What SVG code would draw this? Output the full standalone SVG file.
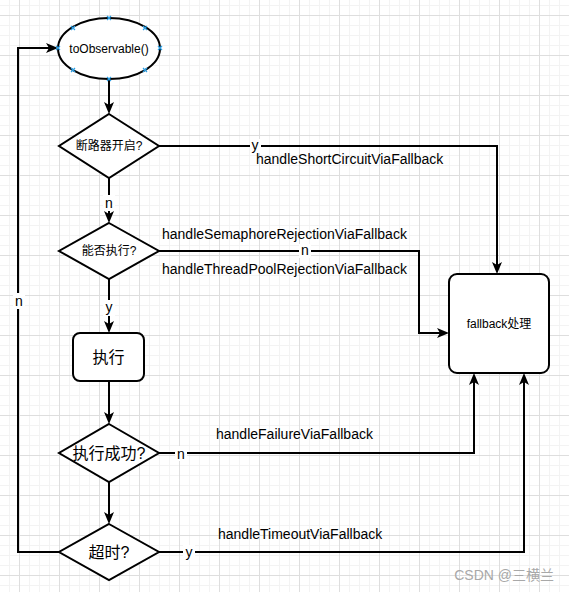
<svg xmlns="http://www.w3.org/2000/svg" width="569" height="592" viewBox="0 0 569 592">
<defs>
<pattern id="grid" patternUnits="userSpaceOnUse" x="19" y="15" width="40" height="40">
<rect x="0" y="0" width="40" height="40" fill="#ffffff"/>
<rect x="10" y="0" width="1" height="40" fill="#f3f3f3"/>
<rect x="20" y="0" width="1" height="40" fill="#f3f3f3"/>
<rect x="30" y="0" width="1" height="40" fill="#f3f3f3"/>
<rect x="0" y="10" width="40" height="1" fill="#f3f3f3"/>
<rect x="0" y="20" width="40" height="1" fill="#f3f3f3"/>
<rect x="0" y="30" width="40" height="1" fill="#f3f3f3"/>
<rect x="0" y="0" width="1" height="40" fill="#dedede"/>
<rect x="0" y="0" width="40" height="1" fill="#dedede"/>
</pattern>
<marker id="arr" viewBox="0 0 12 10" refX="8" refY="5" markerWidth="12" markerHeight="10" markerUnits="userSpaceOnUse" orient="auto">
<path d="M0,0 L12,5 L0,10 L3,5 Z" fill="#000"/>
</marker>
</defs>
<style>
.shape{fill:#fff;stroke:#000;stroke-width:2}
.edge{fill:none;stroke:#000;stroke-width:2}
.t{font-family:"Liberation Sans","Noto Sans CJK SC",sans-serif;fill:#000}
.lbl{font-family:"Liberation Sans","Noto Sans CJK SC",sans-serif;font-size:14px;fill:#000}
.bg{fill:#fff}
.pt{stroke:#2aa0e8;stroke-width:1.2}
</style>
<rect x="0" y="0" width="569" height="592" fill="url(#grid)"/>

<g id="connectors">
<path class="edge" d="M109,79 L109,110" marker-end="url(#arr)"/>
<path class="edge" d="M109,178 L109,219" marker-end="url(#arr)"/>
<path class="edge" d="M109,279 L109,329" marker-end="url(#arr)"/>
<path class="edge" d="M109,381 L109,420" marker-end="url(#arr)"/>
<path class="edge" d="M109,482 L109,520" marker-end="url(#arr)"/>
<path class="edge" d="M59,552 L18,552 L18,48 L54,48" marker-end="url(#arr)"/>
<path class="edge" d="M159,146 L497,146 L497,270" marker-end="url(#arr)"/>
<path class="edge" d="M159,251 L419,251 L419,333 L445,333" marker-end="url(#arr)"/>
<path class="edge" d="M159,453 L474,453 L474,377" marker-end="url(#arr)"/>
<path class="edge" d="M159,552 L524,552 L524,377" marker-end="url(#arr)"/>
<rect class="bg" x="103" y="195" width="12" height="16"/>
<text class="lbl" x="109" y="208" text-anchor="middle">n</text>
<rect class="bg" x="103" y="300" width="12" height="16"/>
<text class="lbl" x="109" y="312" text-anchor="middle">y</text>
<rect class="bg" x="13" y="293" width="12" height="16"/>
<text class="lbl" x="19" y="306" text-anchor="middle">n</text>
<rect class="bg" x="250" y="139" width="11" height="14"/>
<text class="lbl" x="255" y="150" text-anchor="middle">y</text>
<text class="lbl" x="256" y="164">handleShortCircuitViaFallback</text>
<rect class="bg" x="299" y="244" width="12" height="14"/>
<text class="lbl" x="305" y="255" text-anchor="middle">n</text>
<text class="lbl" x="162" y="239">handleSemaphoreRejectionViaFallback</text>
<text class="lbl" x="162" y="274">handleThreadPoolRejectionViaFallback</text>
<rect class="bg" x="175" y="446" width="12" height="15"/>
<text class="lbl" x="181" y="459" text-anchor="middle">n</text>
<text class="lbl" x="216" y="439">handleFailureViaFallback</text>
<rect class="bg" x="183" y="545" width="12" height="15"/>
<text class="lbl" x="189" y="557" text-anchor="middle">y</text>
<text class="lbl" x="218" y="539">handleTimeoutViaFallback</text>
</g>

<g id="toObservable">
<ellipse class="shape" cx="109" cy="48.5" rx="51" ry="30.5"/>
<text class="t" x="109" y="53" font-size="12" text-anchor="middle">toObservable()</text>
<g class="pt">
<path d="M107,16 l4,4 M111,16 l-4,4"/>
<path d="M107,77 l4,4 M111,77 l-4,4"/>
<path d="M56,46 l4,4 M60,46 l-4,4"/>
<path d="M158,46 l4,4 M162,46 l-4,4"/>
<path d="M71,26 l4,4 M75,26 l-4,4"/>
<path d="M143,26 l4,4 M147,26 l-4,4"/>
<path d="M71,68 l4,4 M75,68 l-4,4"/>
<path d="M143,68 l4,4 M147,68 l-4,4"/>
</g>
</g>

<g id="circuitOpen">
<polygon class="shape" points="109,114 159,146 109,178 59,146"/>
<text class="t" x="109" y="150" font-size="12" text-anchor="middle">断路器开启?</text>
</g>

<g id="canExecute">
<polygon class="shape" points="109,223 159,251 109,279 59,251"/>
<text class="t" x="109" y="255" font-size="12" text-anchor="middle">能否执行?</text>
</g>

<g id="execute">
<rect class="shape" x="73" y="333" width="71" height="48" rx="7"/>
<text class="t" x="108.5" y="363" font-size="16" text-anchor="middle">执行</text>
</g>

<g id="success">
<polygon class="shape" points="109,424 159,453 109,482 59,453"/>
<text class="t" x="109" y="459" font-size="16" text-anchor="middle">执行成功?</text>
</g>

<g id="timeout">
<polygon class="shape" points="109,524 159,552 109,580 59,552"/>
<text class="t" x="109" y="558" font-size="16" text-anchor="middle">超时?</text>
</g>

<g id="fallback">
<rect class="shape" x="449" y="274" width="100" height="99" rx="8"/>
<text class="t" x="499" y="328" font-size="12" text-anchor="middle">fallback处理</text>
</g>

<text x="554" y="580" font-family="'Liberation Sans','Noto Sans CJK SC',sans-serif" font-size="14" fill="#a8a8a8" text-anchor="end">CSDN @三横兰</text>
</svg>
